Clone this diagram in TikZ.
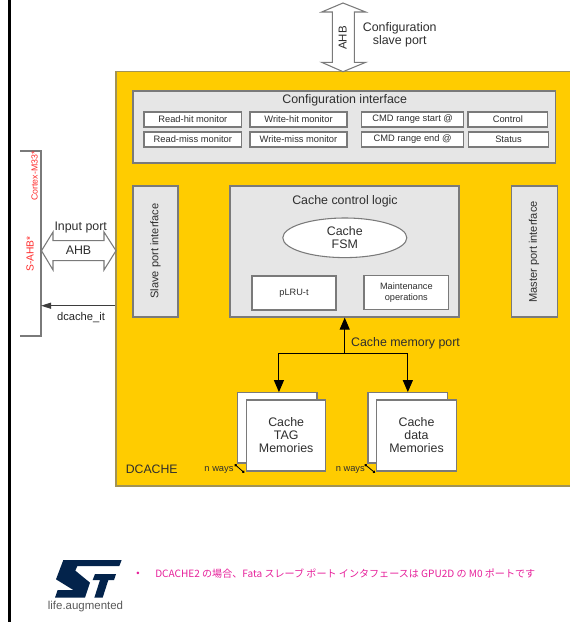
\documentclass[tikz,border=0pt]{standalone}
\usepackage{fontspec}
\setmainfont{Liberation Sans}
\newfontfamily\cjkfont{Noto Sans CJK JP}
\usetikzlibrary{shapes.geometric,arrows.meta}
\definecolor{stgold}{HTML}{FFCC00}
\definecolor{panelgrey}{HTML}{E6E6E6}
\definecolor{edgegrey}{HTML}{7A7A7A}
\definecolor{inktext}{HTML}{2E2E2E}
\definecolor{stnavy}{HTML}{03234B}
\definecolor{notepink}{HTML}{E6209A}
\definecolor{ahbred}{HTML}{FF2A2A}
\tikzset{
  boxbase/.style={draw=edgegrey,line width=0.9pt,inner sep=0pt,align=center,text=inktext},
  panel/.style={boxbase,fill=panelgrey},
  whitebox/.style={boxbase,fill=white},
  blockarrow/.style={draw=edgegrey,line width=0.8pt,fill=white,line join=miter},
  lab/.style={inner sep=0pt,align=center,text=inktext,font=\fontsize{9.3}{9.75}\selectfont},
  mon/.style={font=\fontsize{7}{9}\selectfont},
  small/.style={font=\fontsize{6.9}{8.6}\selectfont},
  mem/.style={font=\fontsize{9.3}{9.75}\selectfont},
  flow/.style={line width=0.8pt,draw=black,-{Triangle[length=9pt,width=7.5pt]}},
  waymark/.style={line width=0.6pt,draw=black,{Circle[length=2pt]}-{Circle[length=2pt]}},
}
% name, x1, y1, x2, y2, style, text
\newcommand{\pxbox}[7]{\node (#1) [#6,minimum width={(#4-#2)*0.75pt},minimum height={(#5-#3)*0.75pt}] at ({(#2+#4)/2},{(#3+#5)/2}) {#7};}
\begin{document}
\begin{tikzpicture}[x=0.75pt,y=-0.75pt]
\useasboundingbox (0,0) rectangle (569,622);
% page rule
\coordinate (ruleT) at (9.4,-2);
\coordinate (ruleB) at (9.4,624);
\draw[line width=1.9pt,black] (ruleT) -- (ruleB);
% main block
\pxbox{dcache}{116}{71.5}{580}{486}{boxbase,fill=stgold,draw=edgegrey!70!stgold}{}
\node[lab,font=\fontsize{9.2}{10}\selectfont] (dcname) at (151.7,469.5) {DCACHE};
% config port
\draw[blockarrow] (343,3) -- (365.7,12) -- (354.3,12) -- (354.3,62.3) -- (365.7,62.3) -- (343,71.7) -- (321.7,62.3) -- (332.3,62.3) -- (332.3,12) -- (321.7,12) -- cycle;
\node[lab,rotate=90,font=\fontsize{8.6}{9}\selectfont] (cfgahb) at (342.7,38) {AHB};
\node[lab] (cfglabel) at (399.7,35) {Configuration\\slave port};
% configuration interface
\pxbox{cfgif}{133}{91}{555.7}{163}{panel}{}
\node[lab] (cfgtitle) at (344.7,100) {Configuration interface};
\pxbox{m1}{144}{112}{241.7}{127}{whitebox,mon}{Read-hit monitor}
\pxbox{m2}{250}{112}{347}{127}{whitebox,mon}{Write-hit monitor}
\pxbox{m3}{361.7}{112}{463.7}{127}{whitebox,mon}{CMD range start @}
\pxbox{m4}{468}{112}{547.7}{127}{whitebox,mon}{Control}
\pxbox{m5}{144}{132}{241.7}{147}{whitebox,mon}{Read-miss monitor}
\pxbox{m6}{250}{132}{347}{147}{whitebox,mon}{Write-miss monitor}
\pxbox{m7}{361.7}{132}{463.7}{147}{whitebox,mon}{CMD range end @}
\pxbox{m8}{468.5}{132}{548.5}{147}{whitebox,mon}{Status}
% port interfaces
\pxbox{slave}{133}{186}{178}{317}{panel}{}
\node[lab,rotate=90,font=\fontsize{8.3}{9}\selectfont] (slavetxt) at (155.5,251) {Slave port interface};
\pxbox{master}{511.7}{186}{557.3}{317}{panel}{}
\node[lab,rotate=90,font=\fontsize{8.3}{9}\selectfont] (mastertxt) at (534,252) {Master port interface};
% cache control logic
\pxbox{ctl}{230}{186}{459}{317}{panel}{}
\node[lab] (ctltitle) at (345,201.7) {Cache control logic};
\node (fsm) [ellipse,draw=edgegrey,line width=0.8pt,fill=white,inner sep=0pt,align=center,text=inktext,mem,minimum width=93pt,minimum height=29.7pt] at (344.8,237.8) {Cache\\FSM};
\pxbox{plru}{252}{276}{336}{310}{whitebox,small}{pLRU-t}
\pxbox{maint}{364}{275.7}{448.7}{309.7}{whitebox,small}{Maintenance\\operations}
% memories
\pxbox{tagB}{237.7}{392.7}{317}{463}{whitebox}{}
\pxbox{tagF}{246.7}{400}{325.7}{471}{whitebox,mem}{Cache\\TAG\\Memories}
\pxbox{dataB}{368}{392.7}{447.7}{463}{whitebox}{}
\pxbox{dataF}{376.7}{400}{456.3}{471}{whitebox,mem}{Cache\\data\\Memories}
% cache memory port
\coordinate (junc) at (344.7,353.7);
\draw[flow] (junc) -- (junc |- ctl.south);
\draw[flow] (junc) -| ([xshift=1.2pt]tagB.north);
\draw[flow] (junc) -| (dataB.north);
\node[lab] (cmport) at (405.5,343) {Cache memory port};
% n ways
\node[lab,font=\fontsize{7}{8}\selectfont] (nw1) at (219,470) {n ways};
\node[lab,font=\fontsize{7}{8}\selectfont] (nw2) at (350.3,470) {n ways};
\coordinate (w1a) at (234.7,464.3); \coordinate (w1b) at (244.3,472.7);
\coordinate (w2a) at (364.7,464.3); \coordinate (w2b) at (375,472.7);
\draw[waymark] (w1a) -- (w1b);
\draw[waymark] (w2a) -- (w2b);
% S-AHB bracket
\coordinate (brTL) at (20,151); \coordinate (brTR) at (41,151);
\coordinate (brBR) at (41,336); \coordinate (brBL) at (20,336);
\draw[edgegrey,line width=0.9pt] (brTL) -- (brTR) -- (brBR) -- (brBL);
\node[inner sep=0pt,rotate=90,text=ahbred,font=\fontsize{7.7}{8}\selectfont] (sahb) at (30,254) {S-AHB*};
\node[inner sep=0pt,rotate=90,text=ahbred,font=\fontsize{6.6}{7}\selectfont] (cm33) at (34.7,176) {Cortex-M33*};
% input port
\draw[blockarrow] (41.5,250.7) -- (53,232) -- (53,240.7) -- (104,240.7) -- (104,232) -- (116,250.7) -- (104,270) -- (104,260.7) -- (53,260.7) -- (53,270) -- cycle;
\node[lab] (inahb) at (78.5,250.5) {AHB};
\node[lab] (inlabel) at (80.7,227.3) {Input port};
% dcache_it
\coordinate (itend) at (41,305.7);
\draw[line width=0.8pt,draw=edgegrey!50!black,-{Triangle[length=7.5pt,width=4.5pt]}] (itend -| dcache.west) -- (itend);
\node[lab,font=\fontsize{8.4}{9}\selectfont,text=black!85] (itlabel) at (81,317.5) {dcache\_it};
% ST logo
\begin{scope}[shift={(40,550)},x=0.25pt,y=-0.25pt]
\fill[stnavy] (70,30) -- (245,30) -- (238,48) -- (112,48) -- (106,62) -- (150,98) -- (135,143) -- (45,143) -- (53,120) -- (100,120) -- (48,88) -- cycle;
\fill[stnavy] (165,72) -- (228,72) -- (222,90) -- (205,90) -- (188,143) -- (163,143) -- (180,90) -- (158,90) -- cycle;
\end{scope}
\node[inner sep=0pt,text=black!65,font=\fontsize{8.6}{9}\selectfont] (lifeaug) at (85.5,606.5) {life.augmented};
% footnote
\node[inner sep=0pt,text=notepink,font=\fontsize{7}{9}\selectfont] (bullet) at (138,574) {•};
\node[inner sep=0pt,anchor=west,text=notepink,font=\cjkfont\fontsize{7.55}{9}\selectfont] (note) at (155,574) {DCACHE2 の場合、Fata スレーブ ポート インタフェースは GPU2D の M0 ポートです};
\end{tikzpicture}
\end{document}
